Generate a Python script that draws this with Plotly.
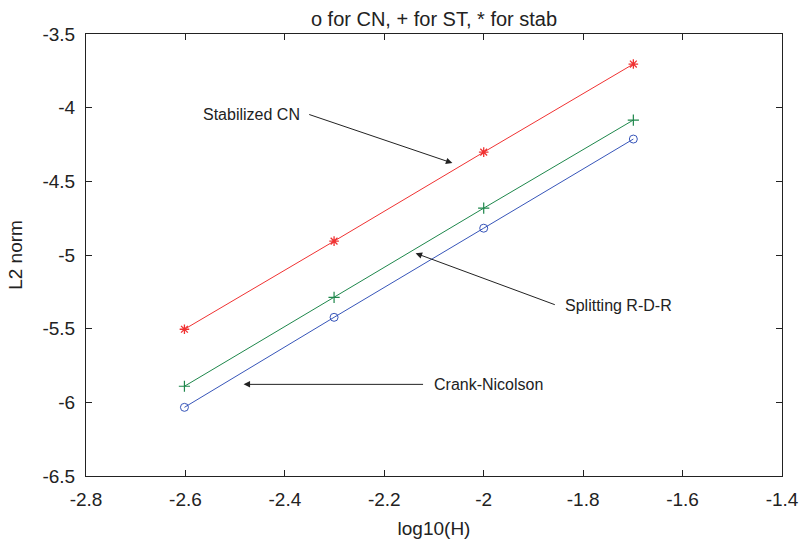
import plotly.graph_objects as go

x_vals = [-2.602, -2.301, -2.0, -1.699]
cn = [-6.034, -5.423, -4.818, -4.213]
st = [-5.891, -5.287, -4.682, -4.084]
stab = [-5.504, -4.906, -4.302, -3.704]

x_ticks = [-2.8, -2.6, -2.4, -2.2, -2.0, -1.8, -1.6, -1.4]
x_ticktext = ["-2.8", "-2.6", "-2.4", "-2.2", "-2", "-1.8", "-1.6", "-1.4"]
y_ticks = [-6.5, -6, -5.5, -5, -4.5, -4, -3.5]
y_ticktext = ["-6.5", "-6", "-5.5", "-5", "-4.5", "-4", "-3.5"]

RED = "rgb(240,50,50)"
GREEN = "rgb(30,135,75)"
BLUE = "rgb(55,85,185)"
FAM = "Liberation Sans, Arial, sans-serif"

fig = go.Figure()
fig.add_trace(go.Scatter(x=x_vals, y=stab, mode="lines+markers",
                         line=dict(color=RED, width=1),
                         marker=dict(symbol="asterisk-open", size=8, color=RED, line=dict(color=RED, width=1.3))))
fig.add_trace(go.Scatter(x=x_vals, y=st, mode="lines+markers",
                         line=dict(color=GREEN, width=1),
                         marker=dict(symbol="cross-thin-open", size=8, color=GREEN, line=dict(color=GREEN, width=1.2))))
fig.add_trace(go.Scatter(x=x_vals, y=cn, mode="lines+markers",
                         line=dict(color=BLUE, width=1),
                         marker=dict(symbol="circle-open", size=8, color=BLUE, line=dict(color=BLUE, width=1))))

font = dict(family=FAM, color="#222", size=16)
ann = []
ann.append(dict(x=-2.354, y=-4.043, xref="x", yref="y", text="Stabilized CN", showarrow=False,
                xanchor="right", xshift=-6, font=font))
ann.append(dict(x=-2.063, y=-4.376, ax=-2.354, ay=-4.043, xref="x", yref="y", axref="x", ayref="y",
                text="", showarrow=True, arrowhead=2, arrowsize=1.3, arrowwidth=1, arrowcolor="#222"))
ann.append(dict(x=-1.84, y=-5.341, xref="x", yref="y", text="Splitting R-D-R", showarrow=False,
                xanchor="left", font=font))
ann.append(dict(x=-2.137, y=-4.988, ax=-1.854, ay=-5.341, xref="x", yref="y", axref="x", ayref="y",
                text="", showarrow=True, arrowhead=2, arrowsize=1.3, arrowwidth=1, arrowcolor="#222"))
ann.append(dict(x=-2.105, y=-5.878, xref="x", yref="y", text="Crank-Nicolson", showarrow=False,
                xanchor="left", font=font))
ann.append(dict(x=-2.483, y=-5.878, ax=-2.119, ay=-5.878, xref="x", yref="y", axref="x", ayref="y",
                text="", showarrow=True, arrowhead=2, arrowsize=1.3, arrowwidth=1, arrowcolor="#222"))

axis_common = dict(showgrid=False, zeroline=False, showline=True, linecolor="#222", linewidth=1,
                   mirror="ticks", ticks="inside", ticklen=6, tickcolor="#222", automargin=False,
                   ticklabelstandoff=6,
                   tickfont=dict(family=FAM, size=19, color="#222"))

fig.update_layout(
    width=800, height=541,
    paper_bgcolor="white", plot_bgcolor="white",
    margin=dict(l=86, r=18, t=34, b=65),
    showlegend=False,
    title=dict(text="o for CN, + for ST, * for stab", x=0.5, xref="paper", xanchor="center",
               y=1, yref="paper", yanchor="bottom", pad=dict(b=8), automargin=False,
               font=dict(family=FAM, size=20, color="#222")),
    xaxis=dict(range=[-2.8, -1.4], tickvals=x_ticks, ticktext=x_ticktext,
               title=dict(text="log10(H)", standoff=12, font=dict(family=FAM, size=19, color="#222")),
               **axis_common),
    yaxis=dict(range=[-6.5, -3.5], tickvals=y_ticks, ticktext=y_ticktext,
               title=dict(text="L2 norm", standoff=14, font=dict(family=FAM, size=19, color="#222")),
               **axis_common),
    annotations=ann,
)

fig.write_html("out.html")
